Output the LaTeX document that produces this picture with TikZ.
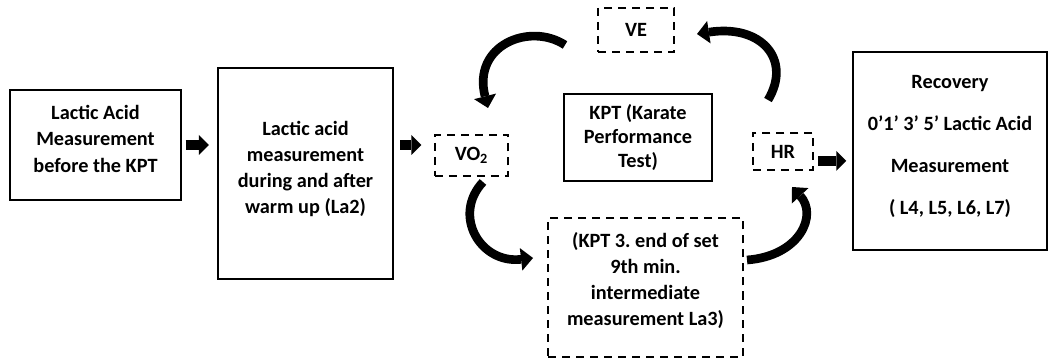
\documentclass[tikz,border=0pt]{standalone}
\usepackage{fontspec}
\setmainfont{Carlito}
\usetikzlibrary{arrows.meta}

\begin{document}
\begin{tikzpicture}[x=0.75pt,y=0.75pt,yscale=-1,xscale=1,
  solidbox/.style={draw,line width=1.1pt,inner sep=0pt,align=center,font=\bfseries\fontsize{15.2}{19.5}\selectfont},
  dashbox/.style={solidbox,dash pattern=on 6pt off 4.5pt},
  blockarr/.style={line width=7.5pt,-{Triangle[length=7.5pt,width=15pt,line width=0pt]}},
  bendarr/.style={line width=6.5pt,-{Triangle[length=9pt,width=17pt,line width=0pt]}}]
\useasboundingbox (0,0) rectangle (1049,363);

%Shape: Rectangle [b1]
\node[solidbox,minimum width=128pt,minimum height=82.5pt] (b1) at (95.5,145) {Lactic Acid\\[0.5pt]Measurement\\[0.5pt]before the KPT\\[-10pt]\mbox{}};
%Shape: Rectangle [b2]
\node[solidbox,minimum width=131pt,minimum height=158pt] (b2) at (305.5,173.5) {Lactic acid\\measurement\\during and after\\warm up (La2)\\[-10pt]\mbox{}};
%Shape: Rectangle [vo2]
\node[dashbox,minimum width=55pt,minimum height=31pt] (vo2) at (471.5,155.5) {VO\textsubscript{2}};
%Shape: Rectangle [ve]
\node[dashbox,minimum width=57pt,minimum height=33pt] (ve) at (636,30) {VE};
%Shape: Rectangle [kpt]
\node[solidbox,minimum width=111pt,minimum height=65pt] (kpt) at (638,137.5) {KPT (Karate\\[-1.5pt]Performance\\[-1.5pt]Test)};
%Shape: Rectangle [hr]
\node[dashbox,minimum width=45pt,minimum height=28pt] (hr) at (783,151.5) {HR};
%Shape: Rectangle [la3]
\node[dashbox,minimum width=146pt,minimum height=104pt] (la3) at (645.5,287.5) {(KPT 3.\ end of set\\9th min.\\intermediate\\measurement La3)\\[-6pt]\mbox{}};
%Shape: Rectangle [rec]
\node[solidbox,minimum width=145.5pt,minimum height=148.5pt] (rec) at (950,151) {Recovery\\[12pt]0’1’ 3’ 5’ Lactic Acid\\[12pt]Measurement\\[12pt]( L4, L5, L6, L7)\\[-10pt]\mbox{}};

%Straight Arrows
\draw[blockarr,shorten <=3pt,shorten >=6.5pt] (b1.east) -- (b1.east -| b2.west);
\draw[blockarr,shorten <=5pt,shorten >=9.5pt] (b1.east -| b2.east) -- (b1.east -| vo2.west);
\draw[blockarr,shorten <=3.5pt,shorten >=4.5pt] ([yshift=7pt]hr.east) -- ([yshift=7pt]hr.east -| rec.west);

%Curved Arrows
\coordinate (veout) at (565,45);
\coordinate (voin) at (488,108);
\coordinate (hrout) at (768,100);
\coordinate (vein) at (697,34);
\coordinate (voout) at (483,182);
\coordinate (lain) at (533,258);
\coordinate (laout) at (747,260);
\coordinate (hrin) at (792,187);
\draw[bendarr] (veout) .. controls (530,22) and (472,45) .. (voin);
\draw[bendarr] (hrout) .. controls (792,60) and (762,24) .. (vein);
\draw[bendarr] (voout) .. controls (452,215) and (480,264) .. (lain);
\draw[bendarr] (laout) .. controls (800,256) and (818,215) .. (hrin);

\end{tikzpicture}
\end{document}
